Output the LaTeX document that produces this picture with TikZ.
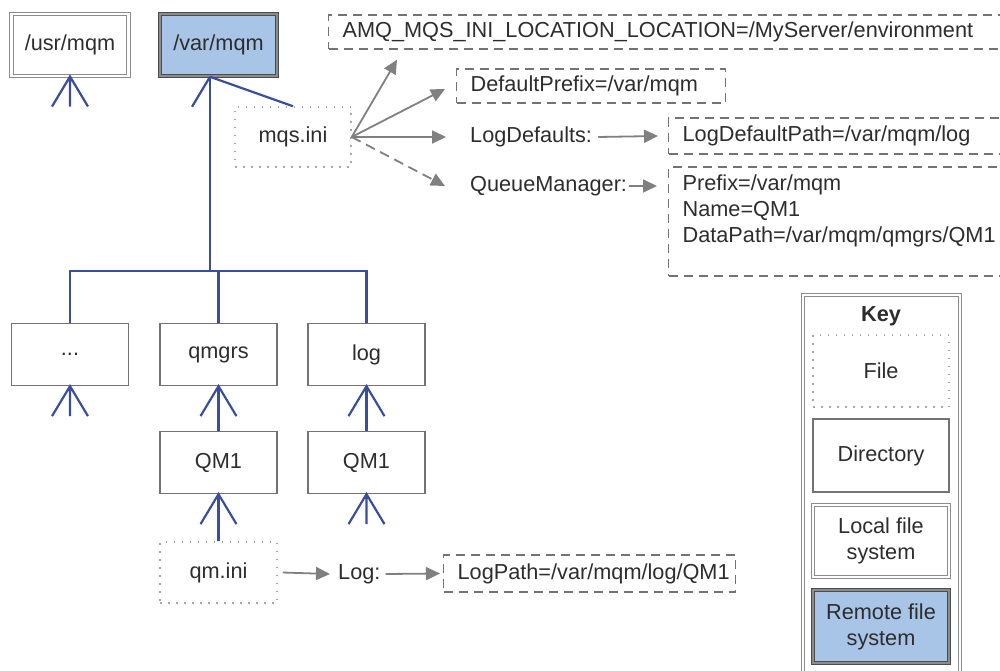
\documentclass[tikz,border=0pt]{standalone}
\usepackage{fontspec}
\setmainfont{Liberation Sans}
\usetikzlibrary{arrows.meta}
\definecolor{treeblue}{RGB}{58,78,155}
\definecolor{remoteblue}{RGB}{168,196,230}
\definecolor{arrowgray}{RGB}{128,128,128}
\definecolor{textgray}{RGB}{45,45,45}

\begin{document}
\begin{tikzpicture}[
  x=1pt, y=-1pt,
  font=\fontsize{21.7}{26}\selectfont, text=textgray,
  dir/.style={draw=black!55, line width=1.3pt, minimum width=117pt,
              minimum height=62pt, inner sep=0pt, align=center},
  file/.style={draw=black!35, line width=1.5pt, dash pattern=on 1.5pt off 6.5pt,
               minimum width=116pt, minimum height=60pt, inner sep=0pt},
  val/.style={draw=black!55, line width=1.3pt, dash pattern=on 9pt off 6pt,
              anchor=west, align=left, inner xsep=14pt, inner ysep=0pt},
  localfs/.style={dir, draw=black!45, double=white, double distance=2.2pt, line width=1.1pt},
  remotefs/.style={dir, draw=black!70, double=black!45, double distance=1.6pt,
                   line width=1.6pt, fill=remoteblue},
  tree/.style={draw=treeblue, line width=2.2pt},
  ref/.style={draw=arrowgray, line width=1.8pt, -{Triangle[length=14pt,width=13pt]}},
  lbl/.style={anchor=west, inner sep=0pt},
  feet/.pic={\draw[tree] (-18,30) -- (0,0) -- (18,30) (0,0) -- (0,30);}
]
\clip (0,0) rectangle (1000,671);

\node[localfs] (usr) at (70,45) {/usr/mqm};
\node[remotefs] (var) at (218.5,45) {/var/mqm};
\node[file] (mqs) at (293,137) {mqs.ini};

\node[val, text width=654pt, minimum height=34pt] (amq) at (328,32)
  {AMQ\_MQS\_INI\_LOCATION\_LOCATION=/MyServer/environment};
\node[val, text width=241pt, minimum height=34pt] (dpre) at (456,86) {DefaultPrefix=/var/mqm};
\node[lbl] (logdef) at (470,137) {LogDefaults:};
\node[val, text width=314pt, minimum height=36pt] (ldpath) at (668,136) {LogDefaultPath=/var/mqm/log};
\node[lbl] (qmgr) at (470,186) {QueueManager:};
\node[val, text width=314pt, minimum height=109pt] (qmval) at (668,221.5)
  {Prefix=/var/mqm\\Name=QM1\\DataPath=/var/mqm/qmgrs/QM1\\\mbox{}};

\node[dir] (dots) at (70,354.5) {...};
\node[dir] (qmgrs) at (218.5,354.5) {qmgrs};
\node[dir] (logdir) at (366.5,354.5) {log};
\node[dir] (qm1a) at (218.5,462.5) {QM1};
\node[dir] (qm1b) at (366.5,462.5) {QM1};
\node[file, minimum width=117pt, minimum height=61pt] (qmini) at (218.5,572.5) {qm.ini};
\node[lbl] (logkey) at (338,574) {Log:};
\node[val, text width=264pt, minimum height=37pt] (lpath) at (443,573.5) {LogPath=/var/mqm/log/QM1};

\coordinate (apex) at ([xshift=-8.5pt]var.south);
\draw[tree] (apex) -- ++(-18,30);
\draw[tree] (apex) -- (mqs.north);
\draw[tree] (apex) -- ++(0,194) coordinate (hub);
\draw[tree] (dots.north) -- (dots.north |- hub) -| (logdir.north);
\draw[tree] (qmgrs.north) -- (qmgrs.north |- hub);
\draw[tree] (qm1a.north) -- (qmgrs.south);
\draw[tree] (qm1b.north) -- (logdir.south);
\draw[tree] (qmini.north) -- (qm1a.south);
\pic at (usr.south) {feet};
\pic at (dots.south) {feet};
\pic at (qmgrs.south) {feet};
\pic at (logdir.south) {feet};
\pic at (qm1a.south) {feet};
\pic at (qm1b.south) {feet};

\draw[ref] (mqs.east) -- ([shift={(69,10)}]amq.south west);
\draw[ref] (mqs.east) -- ([shift={(-11,3)}]dpre.west);
\draw[ref] (mqs.east) -- ([xshift=-24pt]logdef.west);
\draw[ref, dash pattern=on 10pt off 6pt] (mqs.east) -- ([xshift=-25pt]qmgr.west);
\draw[ref] ([xshift=6pt]logdef.east) -- ([xshift=-10pt]ldpath.west);
\draw[ref] ([xshift=2pt]qmgr.east) -- ([xshift=-11pt]qmgr.east -| qmval.west);
\draw[ref] ([xshift=5pt]qmini.east) -- ([xshift=-8pt]logkey.west);
\draw[ref] ([xshift=5pt]logkey.east) -- ([xshift=-3pt]lpath.west);

\draw[draw=black!45, double=white, double distance=1.5pt, line width=0.8pt]
  (803,690) -- (803,295) -- (960,295) -- (960,690);
\node[font=\bfseries\fontsize{21.7}{26}\selectfont] (keytitle) at (881,316) {Key};
\node[file, minimum width=136pt, minimum height=72pt] (kfile) at (881,371) {File};
\node[dir, minimum width=136pt, minimum height=73pt] (kdir) at (881,455.5) {Directory};
\node[localfs, minimum width=136pt, minimum height=72pt] (klocal) at (881,541) {Local file\\system};
\node[remotefs, minimum width=136pt, minimum height=73pt] (kremote) at (881,626.5) {Remote file\\system};
\end{tikzpicture}
\end{document}
